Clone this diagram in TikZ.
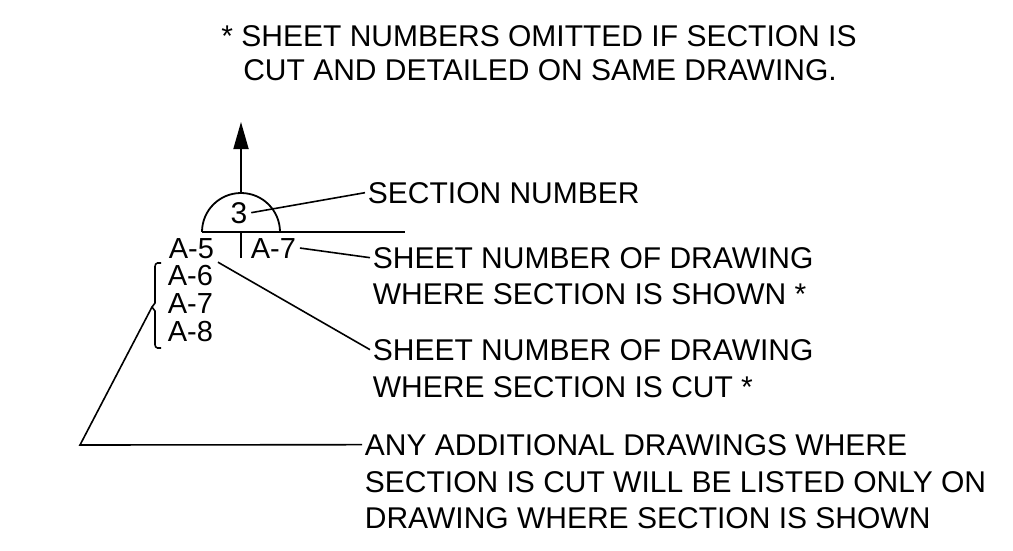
\documentclass[tikz,border=0pt]{standalone}
\usepackage{fontspec}
\setmainfont{Liberation Sans}
\usetikzlibrary{arrows.meta}
\begin{document}
\begin{tikzpicture}[x=1pt,y=1pt,
  line width=1.8pt,
  note/.style={font=\fontsize{30}{36}\selectfont, inner sep=2pt, anchor=base west},
  sheet/.style={font=\fontsize{29}{30}\selectfont, inner sep=3pt, anchor=base west},
  topnote/.style={font=\fontsize{30}{36}\selectfont, inner sep=0pt, anchor=base},
  leader/.style={line width=1.6pt}]
\useasboundingbox (0,0) rectangle (1013,-550);

% general note
\node[topnote] (noteA) at (539,-46) {* SHEET NUMBERS OMITTED IF SECTION IS};
\node[topnote] (noteB) at (540,-80) {CUT AND DETAILED ON SAME DRAWING.};

% section cut symbol
\coordinate (tip) at (241,-122);
\coordinate (top) at (241,-193);
\draw[-{Triangle[length=27pt,width=15pt]}] (top) -- (tip);
\draw (202,-232) arc[start angle=180,end angle=0,radius=39];
\draw (202,-232) -- (405,-232);
\draw (241,-232) -- (241,-258);

\node[font=\fontsize{30}{30}\selectfont, inner sep=3pt, anchor=base] (three) at (239,-223) {3};
\node[sheet] (shown) at (247,-258) {A-7};
\node[sheet] (cutA) at (165,-258) {A-5};
\node[sheet] (cutB) at (164,-285) {A-6};
\node[sheet] (cutC) at (164,-313) {A-7};
\node[sheet] (cutD) at (164,-341) {A-8};

% bracket round the extra sheet numbers
\coordinate (brk) at (152,-307);
\draw[leader] (161,-263) -- (157.5,-263) to[out=180,in=90] (155,-266.5)
  -- (155,-303) -- (brk) -- (155,-311) -- (155,-344.5)
  to[out=-90,in=180] (157.5,-348) -- (161,-348);

% labels
\node[note] (secnum) at (365,-203) {SECTION NUMBER};
\node[note] (shownA) at (370,-268) {SHEET NUMBER OF DRAWING};
\node[note] (shownB) at (370,-304) {WHERE SECTION IS SHOWN *};
\node[note] (cutlabA) at (370,-360) {SHEET NUMBER OF DRAWING};
\node[note] (cutlabB) at (370,-397) {WHERE SECTION IS CUT *};
\node[note] (addA) at (362,-455) {ANY ADDITIONAL DRAWINGS WHERE};
\node[note] (addB) at (362,-492) {SECTION IS CUT WILL BE LISTED ONLY ON};
\node[note] (addC) at (362,-528) {DRAWING WHERE SECTION IS SHOWN};

% leaders
\draw[leader] (three.east) -- (secnum.west);
\draw[leader] (shown.east) -- (shownA.west);
\draw[leader] (cutA.south east) -- (cutlabA.west);
\coordinate (corner) at (80,-445);
\draw[leader] (brk) -- (corner) -- (addA.west);
\end{tikzpicture}
\end{document}
